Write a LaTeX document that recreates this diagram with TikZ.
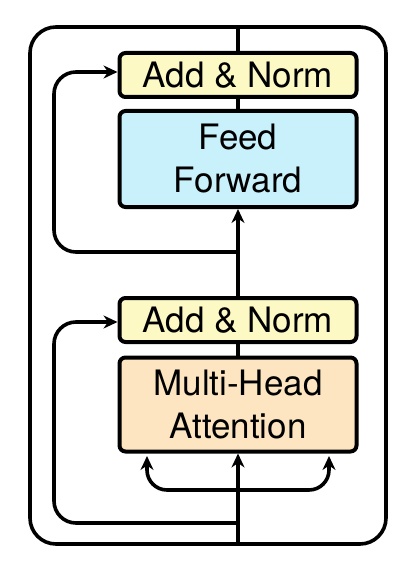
\documentclass[tikz,border=0pt]{standalone}
\usepackage{fontspec}
\setmainfont{TeX Gyre Heros}
\usetikzlibrary{arrows.meta}
\definecolor{normfill}{RGB}{252,249,197}
\definecolor{fffill}{RGB}{200,241,251}
\definecolor{attfill}{RGB}{252,229,192}
\begin{document}
\begin{tikzpicture}[x=1pt,y=-1pt,
  blk/.style={draw=black,line width=4pt,rounded corners=6pt,minimum width=237pt,inner sep=0pt,align=center,font=\fontsize{35}{43}\selectfont},
  wire/.style={line width=3.6pt,rounded corners=22pt},
  arr/.style={line width=3.6pt,-{Stealth[length=14pt,width=13pt]}},
  curv/.style={line width=3.6pt,rounded corners=20pt,-{Stealth[length=14pt,width=13pt]}}]
\useasboundingbox (0,0) rectangle (415,569);
\fill[white] (0,0) rectangle (415,569);
% outer frame
\draw[line width=3.6pt,rounded corners=26pt] (30,27) rectangle (386,544);
% boxes
\node[blk,fill=normfill,minimum height=44pt] (an2) at (238,75) {Add \& Norm};
\node[blk,fill=fffill,minimum height=96pt] (ff) at (238,159) {Feed\\Forward};
\node[blk,fill=normfill,minimum height=44pt] (an1) at (238,320) {Add \& Norm};
\node[blk,fill=attfill,minimum height=94pt] (mha) at (238,404.5) {Multi-Head\\Attention};
% coordinates
\coordinate (top) at (238,27);
\coordinate (bot) at (238,544);
\coordinate (split1) at (238,523);
\coordinate (split2) at (238,252);
\coordinate (branch) at (238,490);
% spine
\draw[line width=3.6pt] (top) -- (an2.north);
\draw[line width=3.6pt] (an2.south) -- (ff.north);
\draw[arr] (an1.north) -- (ff.south);
\draw[line width=3.6pt] (mha.north) -- (an1.south);
\draw[arr] (bot) -- (mha.south);
% residuals
\draw[wire,-{Stealth[length=14pt,width=13pt]}] (split1) -- (54,523) -- (54,322) -- (an1.west|-0,322);
\draw[wire,-{Stealth[length=14pt,width=13pt]}] (split2) -- (54,252) -- (54,72) -- (an2.west|-0,72);
% branches into attention
\draw[curv] (branch) -- (147,490) -- (147,456);
\draw[curv] (branch) -- (329,490) -- (329,456);
\end{tikzpicture}
\end{document}
